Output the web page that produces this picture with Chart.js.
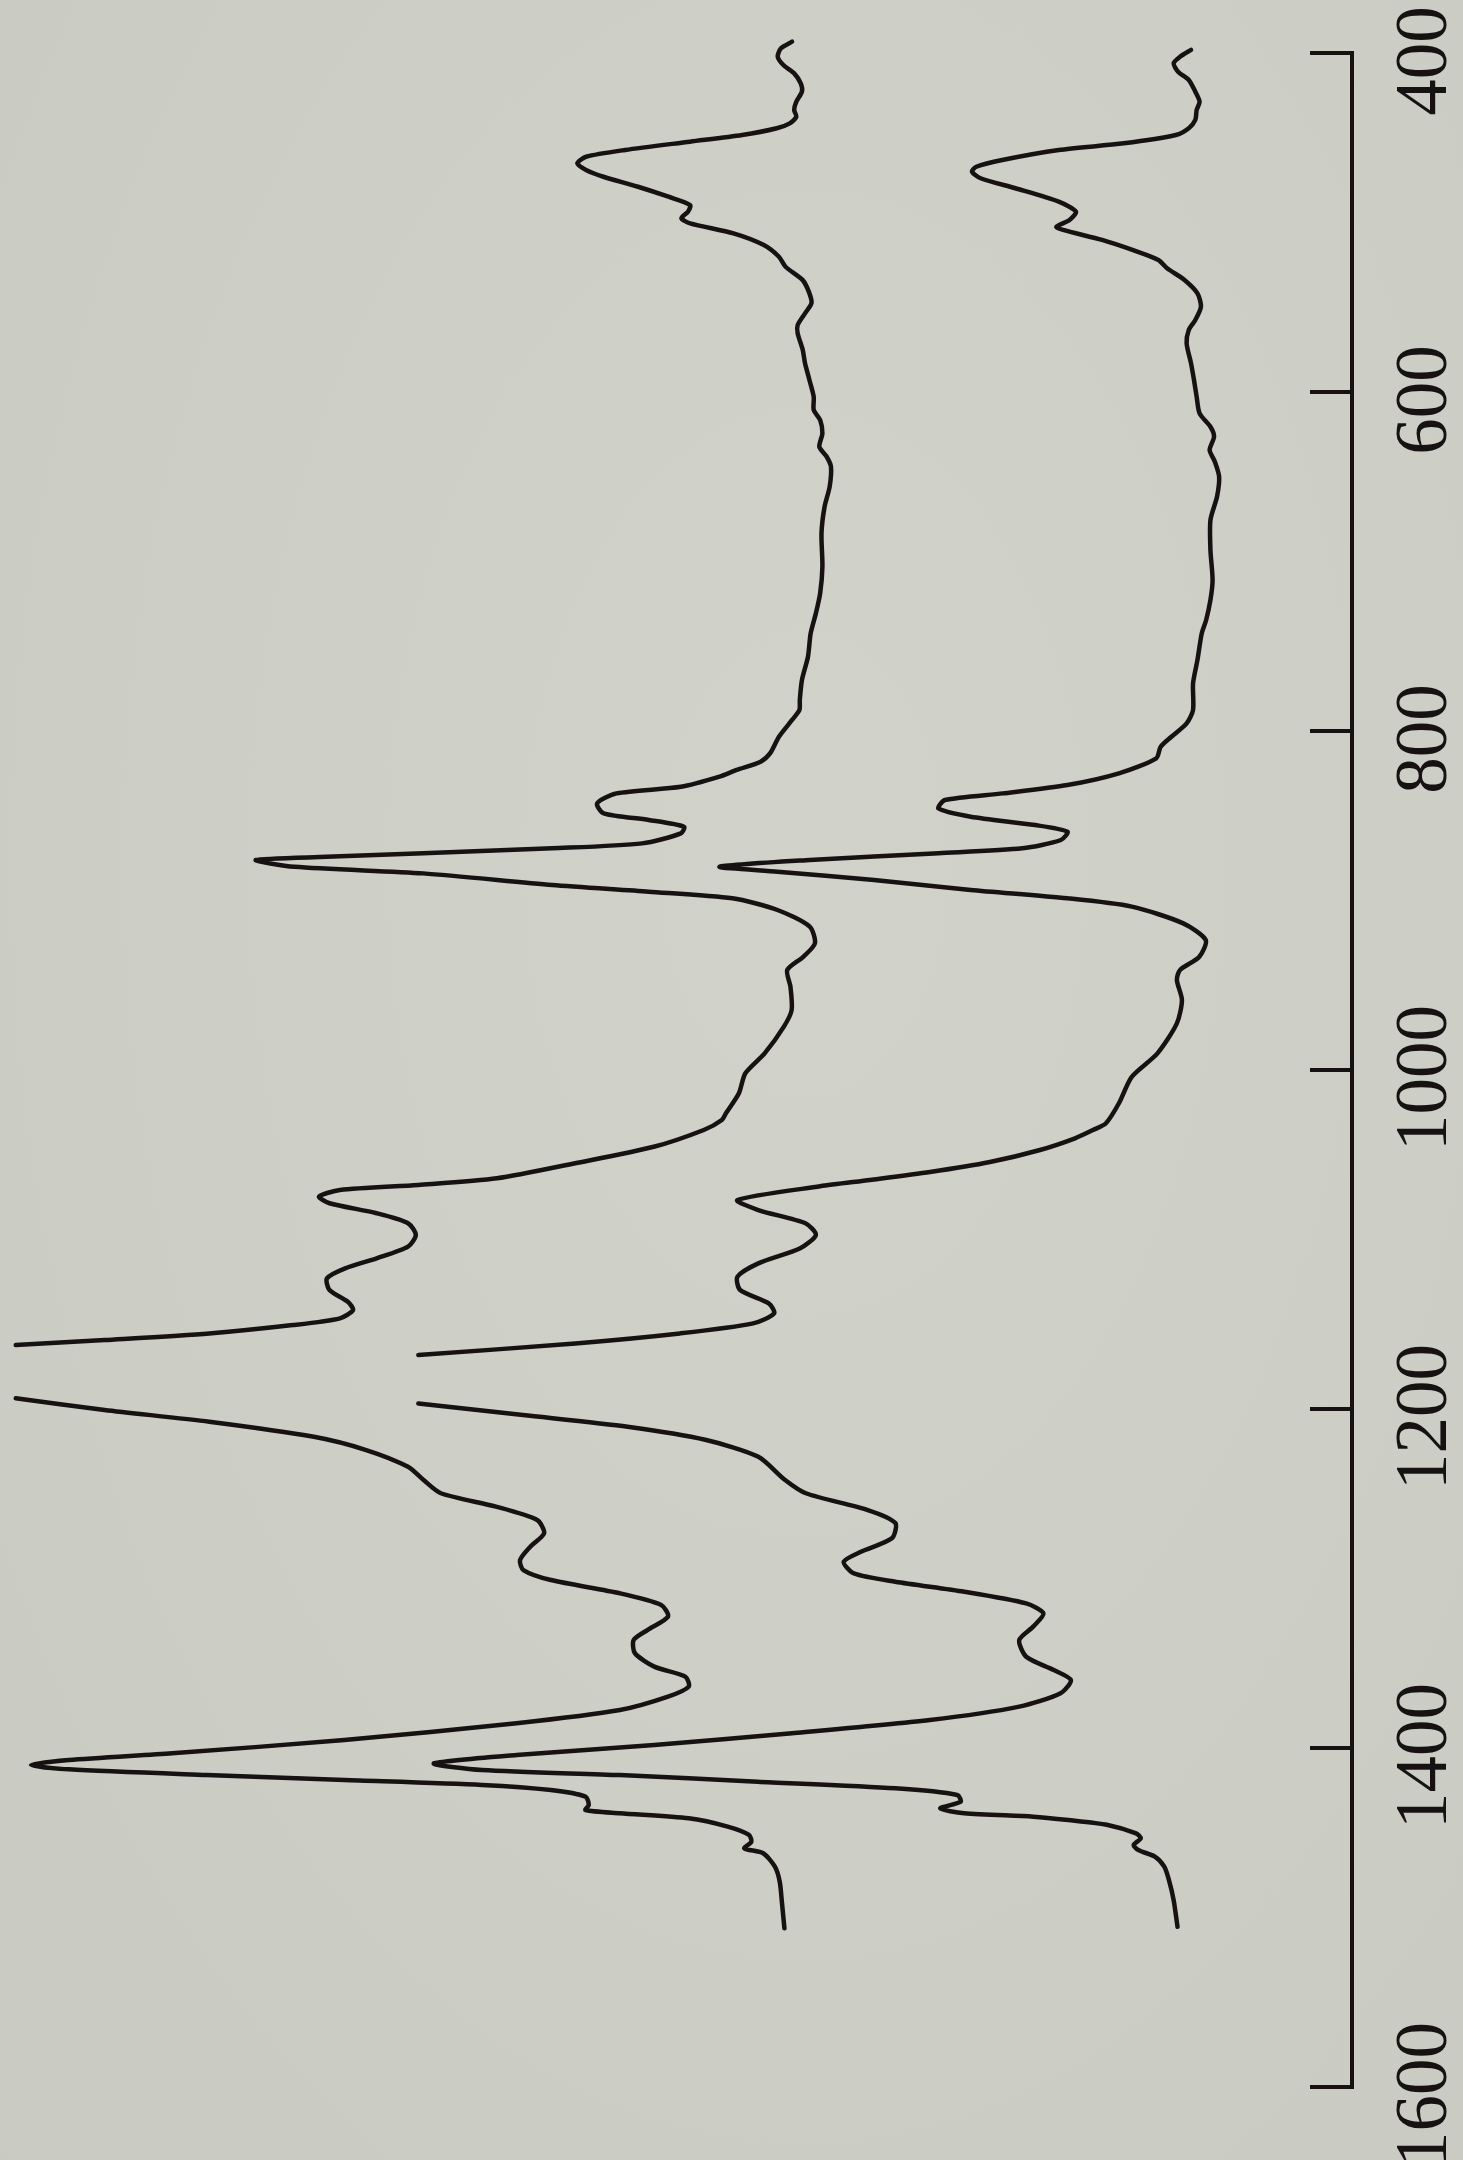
<!DOCTYPE html>
<html>
<head>
<meta charset="utf-8">
<title>IR spectra</title>
<script src="https://cdn.jsdelivr.net/npm/chart.js@4/dist/chart.umd.min.js"></script>
<style>
  html, body { margin: 0; padding: 0; }
  body {
    width: 1463px; height: 2160px; overflow: hidden;
    background: radial-gradient(ellipse at 55% 40%, #d1d2ca 0%, #cdcec6 55%, #c9cac2 100%);
  }
  #c { display: block; }
</style>
</head>
<body>
<canvas id="c" width="1463" height="2160"></canvas>
<script>
// Wavenumber axis ticks (cm-1)
const WAVENUMBER_TICKS = [400, 600, 800, 1000, 1200, 1400, 1600];

// Upper trace: wavenumber (cm-1) and absorbance (offset, arbitrary units).
// null marks the off-scale stretch around 1180 cm-1.
const SPEC_A_WN = [
  393.3, 397.2, 402.2, 407.1, 412.0, 417.9, 422.8, 428.7, 433.6, 437.6, 441.5, 444.4,
  448.4, 452.3, 457.2, 461.2, 465.1, 469.0, 473.0, 478.9, 484.8, 489.7, 493.6, 497.5,
  500.5, 506.4, 513.3, 520.2, 526.1, 534.0, 541.8, 547.7, 553.6, 560.5, 565.4, 575.2,
  583.1, 592.9, 602.8, 610.6, 616.5, 624.4, 632.3, 638.2, 644.1, 655.9, 667.7, 683.4,
  703.1, 718.8, 730.6, 742.4, 756.2, 769.9, 781.7, 787.6, 793.5, 803.4, 813.1, 818.1,
  823.0, 826.9, 832.9, 836.8, 842.7, 848.6, 852.5, 856.5, 860.4, 866.3, 869.2, 872.1,
  874.2, 876.1, 880.1, 884.0, 890.9, 894.8, 898.7, 905.6, 915.4, 925.3, 933.2, 941.0,
  950.8, 964.6, 974.4, 990.2, 1001.9, 1013.7, 1025.5, 1029.5, 1035.4, 1045.3, 1055.0,
  1063.9, 1067.8, 1070.8, 1074.7, 1078.6, 1084.5, 1090.4, 1097.3, 1104.2, 1111.1, 1117.0,
  1122.9, 1129.8, 1136.7, 1141.6, 1146.5, 1150.5, 1155.4, 1159.3, 1162.3, 1178.0, 1193.7,
  1200.6, 1207.5, 1216.4, 1224.2, 1234.1, 1241.9, 1249.7, 1257.6, 1265.5, 1273.3, 1281.2,
  1289.1, 1295.0, 1300.9, 1308.7, 1315.6, 1322.5, 1330.4, 1336.3, 1344.1, 1352.0, 1357.9,
  1363.8, 1369.7, 1377.6, 1385.4, 1395.3, 1403.1, 1407.1, 1410.0, 1412.6, 1416.0, 1418.9,
  1421.8, 1424.8, 1428.7, 1433.6, 1436.6, 1438.5, 1441.5, 1446.4, 1451.3, 1455.3, 1459.2,
  1462.1, 1470.0, 1478.9, 1491.6, 1506.4
];
const SPEC_A_ABS = [
  0.4185, 0.4268, 0.4292, 0.4250, 0.4169, 0.4120, 0.4111, 0.4153, 0.4169, 0.4153, 0.4202, 0.4299,
  0.4558, 0.4947, 0.5433, 0.5725, 0.5790, 0.5725, 0.5595, 0.5336, 0.5109, 0.4947, 0.4963, 0.5012,
  0.4947, 0.4623, 0.4396, 0.4283, 0.4234, 0.4105, 0.4055, 0.4040, 0.4088, 0.4143, 0.4143, 0.4105,
  0.4088, 0.4055, 0.4023, 0.4023, 0.3975, 0.3958, 0.3981, 0.3926, 0.3894, 0.3904, 0.3942, 0.3965,
  0.3958, 0.3975, 0.4007, 0.4046, 0.4066, 0.4111, 0.4127, 0.4130, 0.4185, 0.4283, 0.4348, 0.4420,
  0.4600, 0.4727, 0.5016, 0.5497, 0.5642, 0.5593, 0.5256, 0.4992, 0.5016, 0.5305, 0.5978, 0.6942,
  0.7664, 0.8193, 0.7904, 0.6942, 0.5978, 0.5256, 0.4631, 0.4294, 0.4053, 0.4014, 0.4101, 0.4221,
  0.4197, 0.4188, 0.4246, 0.4390, 0.4534, 0.4582, 0.4679, 0.4710, 0.4845, 0.5218, 0.5805,
  0.6391, 0.6978, 0.7564, 0.7720, 0.7642, 0.7290, 0.7055, 0.6997, 0.7055, 0.7290, 0.7525,
  0.7661, 0.7642, 0.7505, 0.7466, 0.7564, 0.7916, 0.8541, 0.9323, 0.9987, null, 0.9987,
  0.9323, 0.8541, 0.7759, 0.7368, 0.7055, 0.6939, 0.6810, 0.6398, 0.6090, 0.6038, 0.6141,
  0.6218, 0.6193, 0.5987, 0.5472, 0.5163, 0.5112, 0.5266, 0.5369, 0.5359, 0.5215, 0.4983,
  0.4957, 0.5112, 0.5472, 0.6244, 0.7531, 0.8818, 0.9590, 0.9873, 0.9590, 0.8561, 0.7531,
  0.6502, 0.5987, 0.5729, 0.5704, 0.5729, 0.5472, 0.4957, 0.4666, 0.4507, 0.4489, 0.4542,
  0.4401, 0.4313, 0.4277, 0.4260, 0.4242
];

// Lower trace: wavenumber (cm-1) and absorbance (offset, arbitrary units).
const SPEC_B_WN = [
  398.2, 402.2, 406.1, 411.0, 415.9, 422.8, 428.7, 433.6, 439.5, 444.4, 448.4, 453.3,
  457.2, 463.1, 467.1, 470.0, 473.9, 479.8, 487.7, 493.6, 498.5, 502.5, 504.4, 510.3,
  516.2, 522.1, 527.0, 533.9, 541.8, 549.7, 557.5, 563.4, 571.3, 583.1, 592.9, 602.8,
  612.6, 620.5, 626.4, 634.2, 641.1, 650.0, 661.8, 675.5, 693.2, 710.9, 722.7, 734.5,
  742.4, 758.1, 771.9, 787.6, 795.5, 803.4, 809.3, 816.1, 825.0, 831.9, 836.8, 840.7,
  845.7, 850.6, 855.5, 859.4, 864.3, 869.2, 872.1, 876.1, 880.1, 883.0, 887.9, 893.8,
  898.7, 903.6, 913.5, 923.3, 933.2, 941.0, 946.9, 958.7, 972.5, 990.2, 1004.0, 1019.6,
  1031.4, 1035.4, 1040.3, 1047.2, 1054.3, 1060.2, 1064.9, 1068.6, 1076.7, 1082.6, 1090.4,
  1097.3, 1105.2, 1114.1, 1122.0, 1129.8, 1137.7, 1143.6, 1149.5, 1155.4, 1161.3, 1168.2,
  1182.0, 1196.7, 1203.6, 1210.5, 1218.3, 1228.2, 1241.9, 1249.7, 1259.6, 1267.3, 1276.3,
  1284.2, 1290.1, 1297.0, 1301.9, 1307.8, 1314.7, 1320.6, 1328.4, 1336.3, 1346.2, 1354.0,
  1359.9, 1367.7, 1375.6, 1383.5, 1391.3, 1398.2, 1404.1, 1409.1, 1413.0, 1416.0, 1419.9,
  1423.8, 1427.7, 1431.7, 1435.6, 1438.5, 1440.5, 1442.5, 1445.4, 1450.4, 1453.3, 1457.2,
  1460.2, 1464.1, 1470.0, 1477.9, 1489.7, 1505.5
];
const SPEC_B_ABS = [
  0.1203, 0.1285, 0.1333, 0.1300, 0.1220, 0.1171, 0.1139, 0.1161, 0.1171, 0.1220, 0.1317, 0.1706,
  0.2192, 0.2614, 0.2808, 0.2840, 0.2776, 0.2516, 0.2192, 0.2063, 0.2111, 0.2209, 0.2160, 0.1868,
  0.1641, 0.1447, 0.1382, 0.1252, 0.1155, 0.1129, 0.1171, 0.1220, 0.1236, 0.1203, 0.1181, 0.1161,
  0.1139, 0.1058, 0.1031, 0.1064, 0.1025, 0.0993, 0.1009, 0.1058, 0.1058, 0.1042, 0.1058, 0.1090,
  0.1123, 0.1155, 0.1188, 0.1188, 0.1236, 0.1350, 0.1430, 0.1463, 0.1742, 0.2127, 0.2609, 0.3042,
  0.3090, 0.2850, 0.2368, 0.2127, 0.2176, 0.2464, 0.3090, 0.4053, 0.4727, 0.4294, 0.3572, 0.2850,
  0.2127, 0.1646, 0.1261, 0.1093, 0.1141, 0.1285, 0.1309, 0.1271, 0.1309, 0.1454, 0.1646, 0.1742,
  0.1839, 0.1935, 0.2070, 0.2332, 0.2706, 0.3154, 0.3602, 0.3975, 0.4593, 0.4437, 0.4085,
  0.4007, 0.4124, 0.4437, 0.4593, 0.4573, 0.4359, 0.4319, 0.4476, 0.5023, 0.5805, 0.6978,
  null, 0.6978, 0.6196, 0.5414, 0.4827, 0.4437, 0.4237, 0.4082, 0.3619, 0.3413, 0.3439,
  0.3670, 0.3799, 0.3722, 0.3413, 0.2898, 0.2435, 0.2306, 0.2383, 0.2487, 0.2435, 0.2229,
  0.2101, 0.2178, 0.2487, 0.3155, 0.4185, 0.5215, 0.6244, 0.6862, 0.6502, 0.5472, 0.4442,
  0.3413, 0.2950, 0.2925, 0.3078, 0.2898, 0.2383, 0.2120, 0.1826, 0.1614, 0.1579, 0.1632,
  0.1597, 0.1473, 0.1403, 0.1368, 0.1333, 0.1304
];

const INK = '#161212';

// absorbance runs horizontally (grows to the left), wavenumber runs down the page
function toPoints(wn, abs) {
  return wn.map((w, i) => abs[i] === null ? { x: null, y: null } : { x: abs[i], y: w });
}

function trace(label, wn, abs) {
  return {
    label,
    data: toPoints(wn, abs),
    borderColor: INK,
    borderWidth: 4.5,
    pointRadius: 0,
    tension: 0.25,
    fill: false,
    spanGaps: false,
    clip: false
  };
}

new Chart(document.getElementById('c'), {
  type: 'line',
  data: {
    datasets: [
      trace('A', SPEC_A_WN, SPEC_A_ABS),
      trace('B', SPEC_B_WN, SPEC_B_ABS)
    ]
  },
  options: {
    responsive: false,
    animation: false,
    events: [],
    layout: {
      autoPadding: false,
      padding: { top: 53, bottom: 73, left: 14, right: 0 }
    },
    elements: {
      line: { capBezierPoints: false, borderJoinStyle: 'round', borderCapStyle: 'round' }
    },
    plugins: {
      legend: { display: false },
      tooltip: { enabled: false }
    },
    scales: {
      x: {
        type: 'linear',
        display: false,
        min: 0,
        max: 1,
        reverse: true
      },
      y: {
        type: 'linear',
        position: 'right',
        reverse: true,
        min: 400,
        max: 1600,
        afterBuildTicks: (scale) => {
          scale.ticks = WAVENUMBER_TICKS.map(v => ({ value: v }));
        },
        afterFit: (scale) => {
          // fixed axis strip; rotated labels need no extra room above/below
          scale.width = 111;
          scale.paddingTop = 0;
          scale.paddingBottom = 0;
        },
        border: { display: true, color: INK, width: 4 },
        grid: {
          drawOnChartArea: false,
          drawTicks: true,
          tickLength: -42,
          color: INK,
          lineWidth: 4
        },
        ticks: {
          minRotation: 90,
          maxRotation: 90,
          crossAlign: 'center',
          padding: 44,
          labelOffset: 8,
          color: INK,
          font: { family: '"Liberation Serif", "Times New Roman", serif', size: 73 },
          callback: (v) => String(v)
        }
      }
    }
  }
});
</script>
</body>
</html>
